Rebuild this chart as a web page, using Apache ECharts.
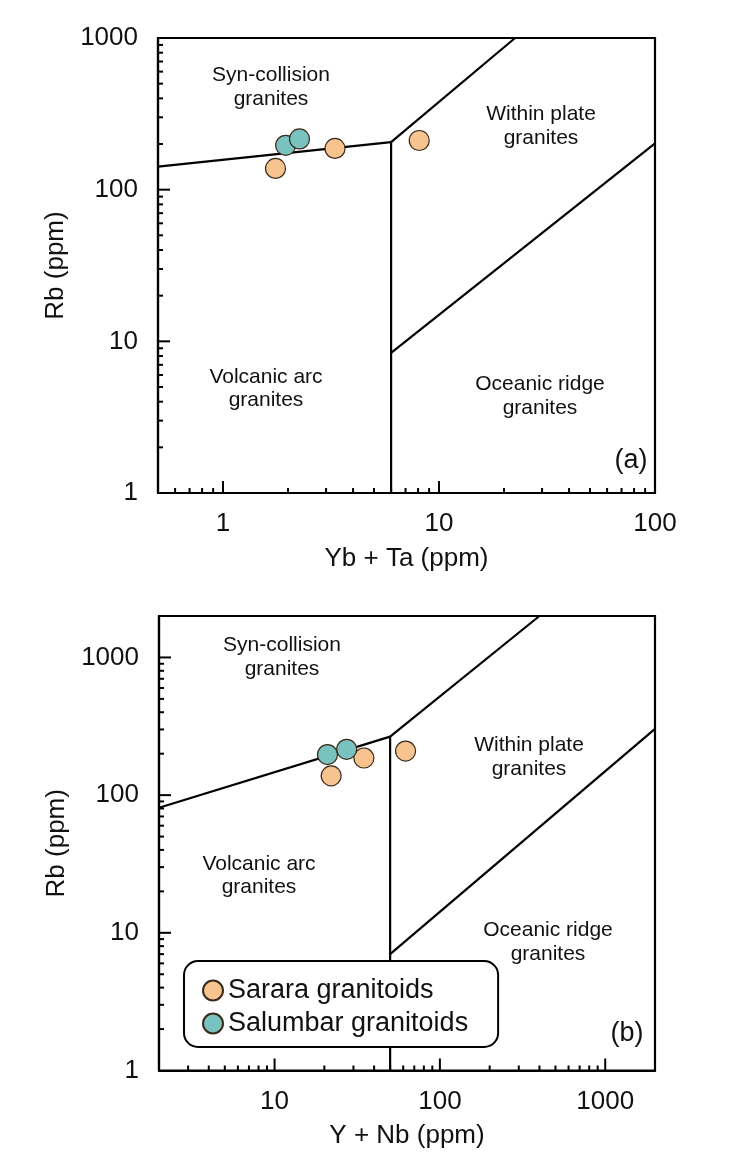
<!DOCTYPE html>
<html>
<head>
<meta charset="utf-8">
<script src="https://cdn.jsdelivr.net/npm/echarts@6/dist/echarts.min.js"></script>
<style>
html,body{margin:0;padding:0;background:#fff;}
#c{width:735px;height:1166px;}
</style>
</head>
<body>
<div id="c"></div>
<script>
// ---------- data ----------
const seriesNames = ['Sarara granitoids', 'Salumbar granitoids'];
// Panel (a): Rb vs Yb+Ta
const sararaA = [[1.75, 138], [3.3, 187], [8.1, 211]];
const salumbarA = [[1.95, 196], [2.26, 216]];
// Panel (b): Rb vs Y+Nb
const sararaB = [[22, 138], [34.7, 186], [62, 209]];
const salumbarB = [[20.9, 197], [27.3, 215]];

// discrimination boundaries (Pearce et al.)
const boundA1 = [[0.5, 142], [6, 206]];
const boundA2 = [[6, 206], [22.5, 1000]];
const boundA3 = [[6, 206], [6, 1]];
const boundA4 = [[6, 8.4], [100, 202]];
const boundB1 = [[2, 81], [50, 266]];
const boundB2 = [[50, 266], [400, 2000]];
const boundB3 = [[50, 266], [50, 1]];
const boundB4 = [[50, 7.0], [2000, 303]];

// axis ranges and tick labels
const xRangeA = [0.5, 100], yRangeA = [1, 1000];
const xRangeB = [2, 2000], yRangeB = [1, 2000];
const xLabelsA = ['1', '10', '100'];
const yLabelsA = ['1', '10', '100', '1000'];
const xLabelsB = ['10', '100', '1000'];
const yLabelsB = ['1', '10', '100', '1000'];

const titles = { xA: 'Yb + Ta (ppm)', xB: 'Y + Nb (ppm)', y: 'Rb (ppm)' };

// ---------- helpers ----------
const FONT = "'Liberation Sans', Arial, sans-serif";
const ORANGE = '#F7C38E', TEAL = '#78C3C0';

function ticksFor(range, otherMin, dir) {
  const out = [];
  const lo = Math.floor(Math.log10(range[0])), hi = Math.ceil(Math.log10(range[1]));
  for (let e = lo; e <= hi; e++) {
    for (let m = 1; m <= 9; m++) {
      const v = m * Math.pow(10, e);
      if (v < range[0] * 1.0001 || v > range[1] * 0.9999) continue;
      const len = m === 1 ? 12 : 5;
      if (dir === 0) out.push([v, otherMin, 0, len]);
      else out.push([otherMin, v, 1, len]);
    }
  }
  return out;
}

function labelFormatter(labels) {
  return function (v) {
    const lg = Math.log10(v);
    if (Math.abs(lg - Math.round(lg)) > 1e-6) return '';
    const s = String(Math.round(v));
    return labels.indexOf(s) >= 0 ? s : '';
  };
}

function tickSeries(idx, data) {
  return {
    type: 'custom', xAxisIndex: idx, yAxisIndex: idx, silent: true, clip: false, z: 5,
    encode: { x: 0, y: 1 },
    data: data,
    renderItem: function (params, api) {
      const p = api.coord([api.value(0), api.value(1)]);
      const dir = api.value(2), len = api.value(3);
      const shape = dir === 0
        ? { x1: p[0], y1: p[1], x2: p[0], y2: p[1] - len }
        : { x1: p[0], y1: p[1], x2: p[0] + len, y2: p[1] };
      return { type: 'line', shape: shape, style: { stroke: '#000', lineWidth: 2 } };
    }
  };
}

function boundSeries(idx, data) {
  return {
    type: 'line', xAxisIndex: idx, yAxisIndex: idx, data: data, symbol: 'none', silent: true,
    lineStyle: { color: '#000', width: 2.2 }, z: 3
  };
}

function scatterSeries(idx, name, data, color) {
  return {
    type: 'scatter', name: name, xAxisIndex: idx, yAxisIndex: idx, data: data,
    symbol: 'circle', symbolSize: 20, z: 10,
    itemStyle: { color: color, borderColor: '#3a2a1a', borderWidth: 1.2, opacity: 1 }
  };
}

function xAxis(idx, range, labels, name, gap) {
  return {
    type: 'log', logBase: 10, gridIndex: idx, min: range[0], max: range[1],
    name: name, nameLocation: 'middle', nameGap: gap,
    nameTextStyle: { fontSize: 26, color: '#111', fontFamily: FONT },
    axisLine: { show: true, lineStyle: { color: '#000', width: 2.2 } },
    axisTick: { show: false }, splitLine: { show: false }, minorTick: { show: false },
    axisLabel: { formatter: labelFormatter(labels), fontSize: 26, color: '#111', fontFamily: FONT, margin: 18, showMinLabel: true, showMaxLabel: true }
  };
}

function yAxis(idx, range, labels, name) {
  return {
    type: 'log', logBase: 10, gridIndex: idx, min: range[0], max: range[1],
    name: name, nameLocation: 'middle', nameGap: 46, nameRotate: 90,
    nameTextStyle: { fontSize: 26, color: '#111', fontFamily: FONT },
    axisLine: { show: true, lineStyle: { color: '#000', width: 2.2 } },
    axisTick: { show: false }, splitLine: { show: false }, minorTick: { show: false },
    axisLabel: { formatter: labelFormatter(labels), fontSize: 26, color: '#111', fontFamily: FONT, margin: 20, showMinLabel: true, showMaxLabel: true }
  };
}

function txt(x, y, s, size) {
  return {
    type: 'text', x: x, y: y, z: 20,
    style: {
      text: s, font: size + 'px ' + FONT, fill: '#111',
      align: 'center', verticalAlign: 'middle', textAlign: 'center', textVerticalAlign: 'middle'
    }
  };
}

const chart = echarts.init(document.getElementById('c'), null, { renderer: 'canvas' });

const option = {
  backgroundColor: '#fff',
  animation: false,
  grid: [
    { left: 158, top: 38, width: 497, height: 455, show: true, borderColor: '#000', borderWidth: 2.2, backgroundColor: 'transparent' },
    { left: 159, top: 616, width: 496, height: 454.5, show: true, borderColor: '#000', borderWidth: 2.2, backgroundColor: 'transparent' }
  ],
  xAxis: [xAxis(0, xRangeA, xLabelsA, titles.xA, 53), xAxis(1, xRangeB, xLabelsB, titles.xB, 52)],
  yAxis: [yAxis(0, yRangeA, yLabelsA, titles.y), yAxis(1, yRangeB, yLabelsB, titles.y)],
  legend: {
    data: seriesNames, orient: 'vertical', left: 184, top: 961,
    backgroundColor: '#fff', borderColor: '#000', borderWidth: 2, borderRadius: 14,
    padding: [16, 30, 10, 18], itemGap: 6, itemWidth: 20, itemHeight: 20,
    textStyle: { fontSize: 27, color: '#111', fontFamily: FONT },
    icon: 'circle', selectedMode: false, z: 15
  },
  graphic: [
    txt(271, 75, 'Syn-collision', 21), txt(271, 99, 'granites', 21),
    txt(541, 114, 'Within plate', 21), txt(541, 138, 'granites', 21),
    txt(266, 377, 'Volcanic arc', 21), txt(266, 400, 'granites', 21),
    txt(540, 384, 'Oceanic ridge', 21), txt(540, 408, 'granites', 21),
    txt(631, 461, '(a)', 27),
    txt(282, 645, 'Syn-collision', 21), txt(282, 669, 'granites', 21),
    txt(529, 745, 'Within plate', 21), txt(529, 769, 'granites', 21),
    txt(259, 864, 'Volcanic arc', 21), txt(259, 887, 'granites', 21),
    txt(548, 930, 'Oceanic ridge', 21), txt(548, 954, 'granites', 21),
    txt(627, 1034, '(b)', 27)
  ],
  series: [
    boundSeries(0, boundA1), boundSeries(0, boundA2), boundSeries(0, boundA3), boundSeries(0, boundA4),
    boundSeries(1, boundB1), boundSeries(1, boundB2), boundSeries(1, boundB3), boundSeries(1, boundB4),
    tickSeries(0, ticksFor(xRangeA, yRangeA[0], 0).concat(ticksFor(yRangeA, xRangeA[0], 1))),
    tickSeries(1, ticksFor(xRangeB, yRangeB[0], 0).concat(ticksFor(yRangeB, xRangeB[0], 1))),
    scatterSeries(0, seriesNames[0], sararaA, ORANGE),
    scatterSeries(0, seriesNames[1], salumbarA, TEAL),
    scatterSeries(1, seriesNames[0], sararaB, ORANGE),
    scatterSeries(1, seriesNames[1], salumbarB, TEAL)
  ]
};
chart.setOption(option);
</script>
</body>
</html>
